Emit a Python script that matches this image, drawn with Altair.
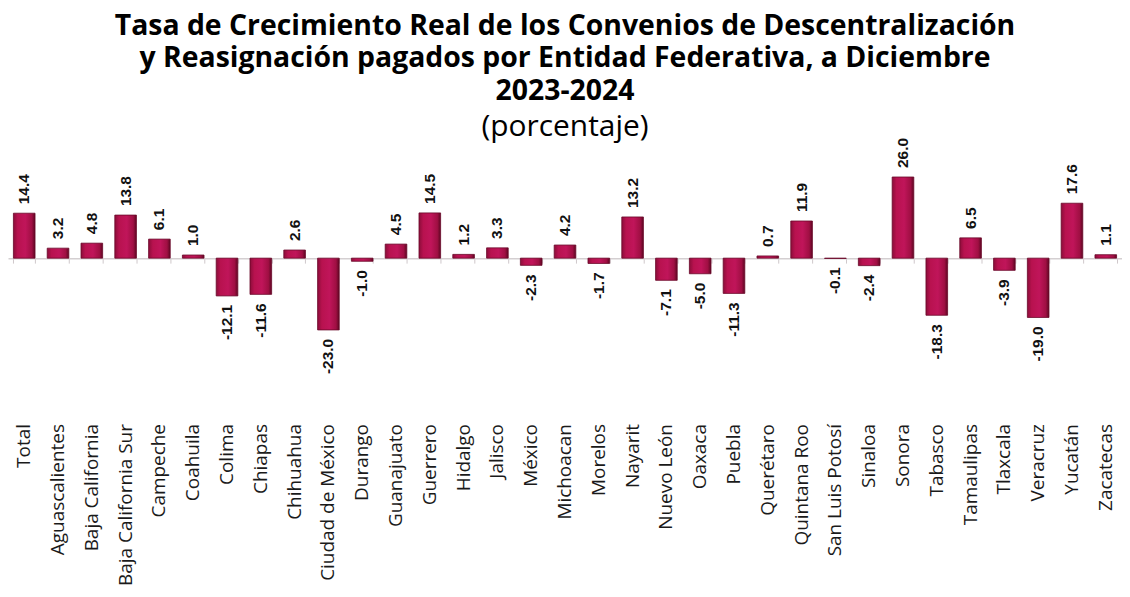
import altair as alt
import pandas as pd

estados = ["Total", "Aguascalientes", "Baja California", "Baja California Sur", "Campeche",
           "Coahuila", "Colima", "Chiapas", "Chihuahua", "Ciudad de México", "Durango",
           "Guanajuato", "Guerrero", "Hidalgo", "Jalisco", "México", "Michoacan", "Morelos",
           "Nayarit", "Nuevo León", "Oaxaca", "Puebla", "Querétaro", "Quintana Roo",
           "San Luis Potosí", "Sinaloa", "Sonora", "Tabasco", "Tamaulipas", "Tlaxcala",
           "Veracruz", "Yucatán", "Zacatecas"]
valores = [14.4, 3.2, 4.8, 13.8, 6.1, 1.0, -12.1, -11.6, 2.6, -23.0, -1.0,
           4.5, 14.5, 1.2, 3.3, -2.3, 4.2, -1.7, 13.2, -7.1, -5.0, -11.3,
           0.7, 11.9, -0.1, -2.4, 26.0, -18.3, 6.5, -3.9, -19.0, 17.6, 1.1]

df = pd.DataFrame({"estado": estados, "valor": valores})
df["etiqueta"] = [f"{v:.1f}" for v in valores]

W, H = 1118, 275
YMIN, YMAX = -51.4, 36.4
zero_off = -round(H * (-YMIN) / (YMAX - YMIN))

xscale = alt.Scale(paddingInner=0.36, paddingOuter=0.16)
yscale = alt.Scale(domain=[YMIN, YMAX], nice=False, zero=False)

base = alt.Chart(df)

zero_layer = base.mark_bar(opacity=0).encode(
    x=alt.X("estado:N", sort=estados, scale=xscale,
            axis=alt.Axis(title=None, labels=False, domain=True, domainColor="#d4cfd1",
                          domainWidth=1.5, ticks=True, tickBand="extent", tickColor="#cfc8cb",
                          tickSize=5, tickWidth=1, offset=zero_off, orient="bottom", grid=False)),
    y=alt.Y("valor:Q", scale=yscale, axis=None),
)

grad = alt.Gradient(
    gradient="linear",
    stops=[alt.GradientStop(color="#8c0d3a", offset=0),
           alt.GradientStop(color="#b8124f", offset=0.2),
           alt.GradientStop(color="#c0155a", offset=0.55),
           alt.GradientStop(color="#a00f43", offset=0.85),
           alt.GradientStop(color="#5e0622", offset=1)],
    x1=0, x2=1, y1=0, y2=0,
)

bars = base.mark_bar(color=grad, stroke="#6a0828", strokeWidth=0.8).encode(
    x=alt.X("estado:N", sort=estados, scale=xscale,
            axis=alt.Axis(title=None, labelAngle=-90, domain=False, ticks=False, orient="bottom",
                          labelFont="Open Sans", labelFontSize=19, labelColor="#1a1a1a",
                          labelPadding=5, labelAlign="right", labelBaseline="middle")),
    y=alt.Y("valor:Q", scale=yscale, axis=None),
)

pos_text = base.transform_filter("datum.valor >= 0").mark_text(
    angle=270, align="left", baseline="middle", dx=9,
    font="Liberation Sans", fontWeight="bold", fontSize=15.5, color="#111111",
).encode(
    x=alt.X("estado:N", sort=estados, scale=xscale, axis=None),
    y=alt.Y("valor:Q", scale=yscale, axis=None),
    text="etiqueta:N",
)

neg_text = base.transform_filter("datum.valor < 0").mark_text(
    angle=270, align="right", baseline="middle", dx=-9,
    font="Liberation Sans", fontWeight="bold", fontSize=15.5, color="#111111",
).encode(
    x=alt.X("estado:N", sort=estados, scale=xscale, axis=None),
    y=alt.Y("valor:Q", scale=yscale, axis=None),
    text="etiqueta:N",
)

chart = alt.layer(zero_layer, bars, pos_text, neg_text).resolve_axis(
    x="independent"
).properties(
    width=W, height=H,
    padding={"left": 0, "top": 2, "right": 0, "bottom": 0},
    title=alt.TitleParams(
        text=["Tasa de Crecimiento  Real de los Convenios de Descentralización",
              "y Reasignación pagados por Entidad Federativa, a Diciembre",
              "2023-2024"],
        subtitle="(porcentaje)",
        font="Open Sans", fontSize=28.5, fontWeight="bold", color="#000000", lineHeight=32.5,
        subtitleFont="Open Sans", subtitleFontSize=30, subtitleColor="#000000",
        subtitlePadding=7, anchor="middle", offset=-4,
    ),
).configure_view(stroke=None)

chart.save("out.html", embed_options={"renderer": "svg", "actions": False})
